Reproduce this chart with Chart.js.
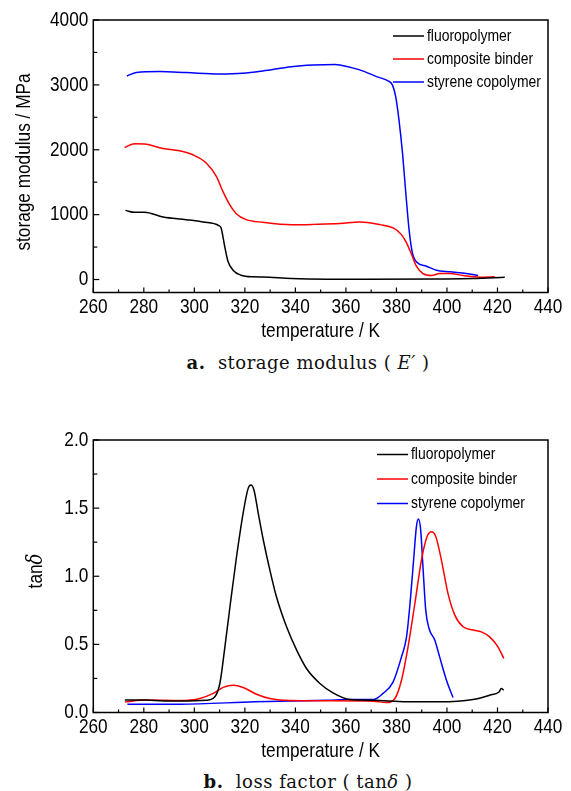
<!DOCTYPE html>
<html>
<head>
<meta charset="utf-8">
<script src="https://cdn.jsdelivr.net/npm/chart.js@4.4.1/dist/chart.umd.min.js"></script>
<style>
    body { margin: 0; background: #fff; }
    .wrap { position: relative; width: 571px; height: 791px; overflow: hidden; }
    canvas { position: absolute; left: 0; }
    .caption {
        position: absolute;
        left: 0;
        width: 616px;
        text-align: center;
        font-family: "DejaVu Serif", "Liberation Serif", serif;
        font-size: 18px;
        letter-spacing: 0.5px;
        line-height: 22px;
        color: #111;
    }
</style>
</head>
<body>
<div class="wrap">
    <canvas id="storage" width="571" height="345" style="top:0"></canvas>
    <div class="caption" style="top:352px"><b>a.</b>&nbsp; storage modulus ( <i>E′</i> )</div>
    <canvas id="loss" width="571" height="345" style="top:420px"></canvas>
    <div class="caption" style="top:771px"><b>b.</b>&nbsp; loss factor ( tan<i>δ</i> )</div>
</div>
<script>
const seriesNames = ["fluoropolymer", "composite binder", "styrene copolymer"]
const seriesColors = ["#000000", "#ff0000", "#0000ff"]

const xTicks = [260, 270, 280, 290, 300, 310, 320, 330, 340, 350, 360, 370, 380, 390, 400, 410, 420, 430, 440]
const xLabels = [260, 280, 300, 320, 340, 360, 380, 400, 420, 440]
const storageTicks = [0, 500, 1000, 1500, 2000, 2500, 3000, 3500, 4000]
const storageLabels = [0, 1000, 2000, 3000, 4000]
const lossTicks = [0, 0.25, 0.5, 0.75, 1, 1.25, 1.5, 1.75, 2]
const lossLabels = [0, 0.5, 1, 1.5, 2]

// storage modulus (MPa)
const fluoroTempE = [272.7, 276.4, 280.3, 287.6, 296.8, 303.4, 309.7, 310.6, 312, 313.3, 315.3, 318.5, 323.2, 327.1, 338.4, 352.8, 367.2, 396, 410.4, 422.9]
const fluoroE = [1066, 1036, 1036, 964, 923, 887, 831, 795, 513, 282, 144, 67, 41, 38, 15, 5, 4, 8, 14, 36]

const binderTempE = [272.4, 276.4, 280.3, 287.6, 294.2, 299.4, 304.7, 308.7, 311.3, 314, 316.6, 320.5, 327.1, 338.4, 347, 357.6, 365.5, 373.4, 378.7, 382, 384, 386, 387.9, 390.5, 393.9, 397.1, 401.1, 406.4, 413, 418.9]
const binderE = [2036, 2092, 2087, 2021, 1985, 1923, 1795, 1590, 1359, 1154, 1015, 923, 882, 845, 850, 862, 887, 846, 795, 692, 564, 385, 205, 92, 62, 92, 92, 62, 36, 41]

const styreneTempE = [273.3, 277, 286.3, 296.8, 310, 319.2, 327.1, 338.4, 347, 355.7, 357.6, 365.5, 372.1, 376.7, 378.4, 379.7, 381, 382.4, 383.7, 385, 386.3, 388.2, 391.9, 395.8, 401.1, 407.7, 412.3]
const styreneE = [3138, 3190, 3205, 3190, 3169, 3180, 3215, 3280, 3306, 3316, 3308, 3231, 3128, 3061, 3000, 2820, 2462, 1952, 1338, 769, 415, 262, 205, 144, 118, 92, 62]

// loss factor tanδ
const fluoroTempT = [272.5, 280.7, 288, 294.3, 304.9, 308.1, 310.1, 312.1, 314.1, 316.7, 319.3, 321.3, 322.4, 323.6, 325.3, 327.3, 329.9, 332.5, 336.5, 340.5, 344.4, 349.7, 354.9, 361.5, 370.8, 384, 397.1, 410.3, 416.9, 420.6, 421.5, 422.5]
const fluoroT = [0.091, 0.091, 0.085, 0.085, 0.09, 0.115, 0.213, 0.482, 0.776, 1.143, 1.462, 1.645, 1.67, 1.633, 1.462, 1.266, 1.045, 0.849, 0.629, 0.458, 0.323, 0.213, 0.144, 0.095, 0.09, 0.078, 0.078, 0.095, 0.127, 0.151, 0.176, 0.164]

const binderTempT = [272.5, 280.7, 294.3, 302.2, 307.5, 311.4, 315.4, 319.3, 324.6, 329.9, 337.8, 352.8, 370.8, 376.1, 379.4, 382, 384.6, 387.3, 389.9, 392.1, 393.9, 395.6, 397.8, 400.4, 403.1, 406.4, 410.3, 413.6, 416.9, 420.2, 422.5]
const binderT = [0.078, 0.091, 0.088, 0.103, 0.14, 0.184, 0.2, 0.184, 0.134, 0.103, 0.088, 0.086, 0.083, 0.073, 0.103, 0.237, 0.482, 0.8, 1.119, 1.29, 1.327, 1.29, 1.119, 0.874, 0.715, 0.629, 0.605, 0.592, 0.555, 0.482, 0.397]

const styreneTempT = [273.5, 294.3, 324, 352.8, 361.5, 370.8, 374.7, 378.7, 382, 384, 385.5, 386.9, 387.9, 388.7, 389.6, 390.5, 391.6, 392.9, 395.2, 397.1, 399.8, 402.4]
const styreneT = [0.06, 0.061, 0.078, 0.09, 0.095, 0.095, 0.14, 0.225, 0.408, 0.555, 0.825, 1.143, 1.363, 1.42, 1.339, 1.07, 0.751, 0.617, 0.531, 0.408, 0.237, 0.11]

const sans = "'Liberation Sans', Arial, sans-serif"
const squeeze = 0.82 // fake a narrow face, none is installed

function toPoints(xs, ys) {
    return xs.map((x, i) => ({ x, y: ys[i] }))
}

function makeDataset(i, xs, ys) {
    return {
        label: seriesNames[i],
        data: toPoints(xs, ys),
        borderColor: seriesColors[i],
        borderWidth: 1.5,
        pointRadius: 0,
        cubicInterpolationMode: "monotone",
        fill: false,
    }
}

// condensed text: pieces = [[text, font], ...]
function narrowText(ctx, pieces, x, y, align, rotate) {
    ctx.save()
    ctx.translate(x, y)
    if (rotate) ctx.rotate(-Math.PI / 2)
    ctx.scale(squeeze, 1)
    ctx.textBaseline = "middle"
    ctx.textAlign = "left"
    let total = 0
    pieces.forEach(([t, f]) => { ctx.font = f; total += ctx.measureText(t).width })
    let cx = align == "center" ? -total / 2 : align == "right" ? -total : 0
    pieces.forEach(([t, f]) => {
        ctx.font = f
        ctx.fillText(t, cx, 0)
        cx += ctx.measureText(t).width
    })
    ctx.restore()
}

// frame box, inward ticks, labels, titles, legend inside the plot
const frameAndTicks = {
    id: "frameAndTicks",
    afterDraw(chart, args, opts) {
        const { ctx, chartArea: a, scales } = chart
        const tickFont = "21px " + sans
        ctx.save()
        ctx.strokeStyle = "#000"
        ctx.fillStyle = "#000"
        ctx.lineWidth = 1.5
        ctx.strokeRect(a.left, a.top, a.right - a.left, a.bottom - a.top)

        ctx.lineWidth = 1.2
        scales.x.ticks.forEach(t => {
            const px = scales.x.getPixelForValue(t.value)
            const major = xLabels.includes(t.value)
            ctx.beginPath()
            ctx.moveTo(px, a.bottom)
            ctx.lineTo(px, a.bottom - (major ? 5 : 3))
            ctx.stroke()
            if (major) narrowText(ctx, [[String(t.value), tickFont]], px, a.bottom + 15, "center")
        })
        scales.y.ticks.forEach(t => {
            const py = scales.y.getPixelForValue(t.value)
            const major = opts.yMajor.includes(t.value)
            ctx.beginPath()
            ctx.moveTo(a.left, py)
            ctx.lineTo(a.left + (major ? 6 : 4), py)
            ctx.stroke()
            if (major) narrowText(ctx, [[opts.format(t.value), tickFont]], a.left - 5, py, "right")
        })

        narrowText(ctx, [["temperature / K", tickFont]], (a.left + a.right) / 2, a.bottom + 39, "center")
        narrowText(ctx, opts.title.pieces, opts.title.x, opts.title.y, "center", true)

        const lg = opts.legend
        chart.data.datasets.forEach((ds, i) => {
            const y = lg.y + i * lg.gap
            ctx.strokeStyle = ds.borderColor
            ctx.lineWidth = 1.5
            ctx.beginPath()
            ctx.moveTo(lg.x, y)
            ctx.lineTo(lg.x + lg.len, y)
            ctx.stroke()
            narrowText(ctx, [[ds.label, "17px " + sans]], lg.x + lg.len + 3, y, "left")
        })
        ctx.restore()
    },
}

function makeChart(id, datasets, yCfg) {
    return new Chart(document.getElementById(id), {
        type: "line",
        data: { datasets },
        plugins: [frameAndTicks],
        options: {
            responsive: false,
            animation: false,
            devicePixelRatio: 1,
            layout: { padding: { top: 20, right: 23, left: 0, bottom: 0 } },
            plugins: {
                legend: { display: false },
                tooltip: { enabled: false },
                frameAndTicks: {
                    yMajor: yCfg.labels,
                    format: yCfg.format,
                    title: yCfg.title,
                    legend: yCfg.legend,
                },
            },
            scales: {
                x: {
                    type: "linear",
                    min: 260,
                    max: 440,
                    grid: { display: false },
                    border: { display: false },
                    ticks: { display: false },
                    afterBuildTicks: s => { s.ticks = xTicks.map(v => ({ value: v })) },
                    afterFit: s => { s.height = 52.5 },
                },
                y: {
                    min: yCfg.min,
                    max: yCfg.max,
                    grid: { display: false },
                    border: { display: false },
                    ticks: { display: false },
                    afterBuildTicks: s => { s.ticks = yCfg.ticks.map(v => ({ value: v })) },
                    afterFit: s => { s.width = 93.3 },
                },
            },
        },
    })
}

makeChart(
    "storage",
    [
        makeDataset(0, fluoroTempE, fluoroE),
        makeDataset(1, binderTempE, binderE),
        makeDataset(2, styreneTempE, styreneE),
    ],
    {
        min: -200,
        max: 4000,
        ticks: storageTicks,
        labels: storageLabels,
        format: v => String(v),
        title: { pieces: [["storage modulus / MPa", "21px " + sans]], x: 24, y: 162 },
        legend: { x: 393, len: 31, y: 36, gap: 23 },
    }
)

makeChart(
    "loss",
    [
        makeDataset(0, fluoroTempT, fluoroT),
        makeDataset(1, binderTempT, binderT),
        makeDataset(2, styreneTempT, styreneT),
    ],
    {
        min: 0,
        max: 2,
        ticks: lossTicks,
        labels: lossLabels,
        format: v => v.toFixed(1),
        title: { pieces: [["tan", "21px " + sans], ["δ", "italic 22px 'DejaVu Serif', serif"]], x: 36.5, y: 151 },
        legend: { x: 377, len: 31, y: 34.5, gap: 24.5 },
    }
)
</script>
</body>
</html>
